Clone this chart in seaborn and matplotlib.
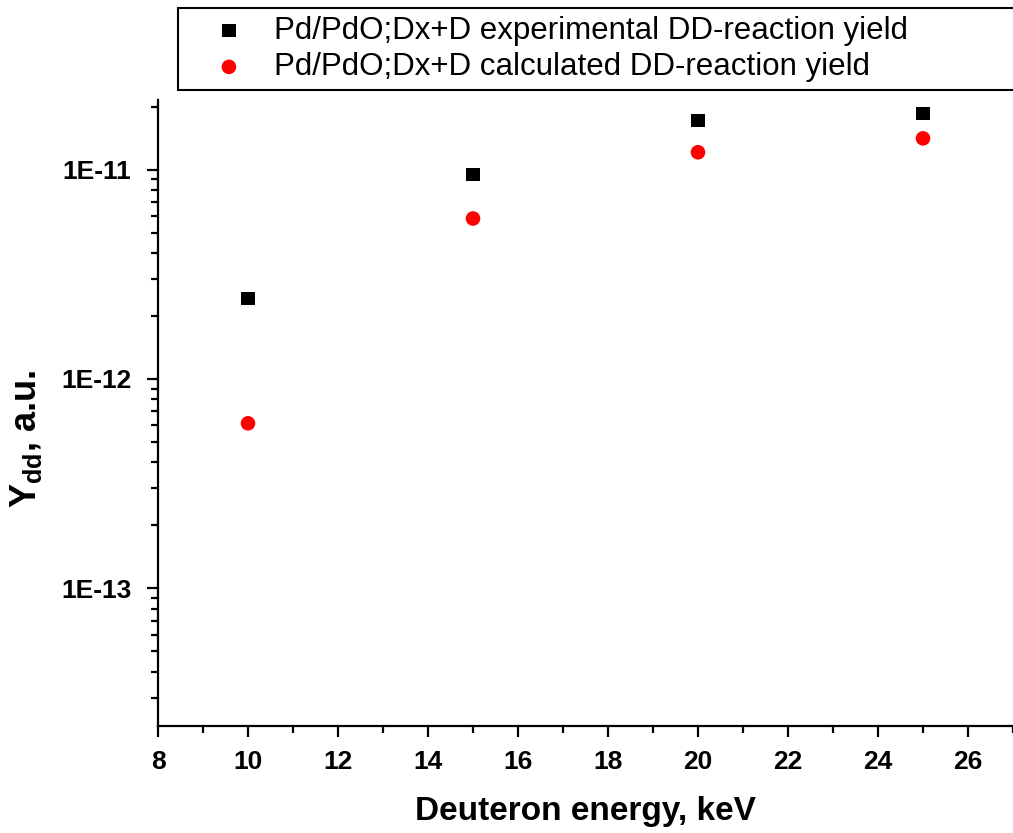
import matplotlib
matplotlib.use("Agg")
import matplotlib.pyplot as plt
import matplotlib.ticker as mticker
import seaborn as sns
import pandas as pd
import numpy as np

energy = [10, 15, 20, 25]
exp_yield = [2.42e-12, 9.46e-12, 1.71e-11, 1.85e-11]
calc_yield = [6.14e-13, 5.84e-12, 1.21e-11, 1.41e-11]
labels = ["Pd/PdO;Dx+D experimental DD-reaction yield",
          "Pd/PdO;Dx+D calculated DD-reaction yield"]
y_major = [1e-13, 1e-12, 1e-11]
y_tick_labels = ["1E-13", "1E-12", "1E-11"]

sns.set_theme(style="ticks", rc={"text.color": "black", "axes.labelcolor": "black",
                                 "xtick.color": "black", "ytick.color": "black"})
plt.rcParams['font.family'] = ['Liberation Sans', 'DejaVu Sans']
plt.rcParams['mathtext.fontset'] = 'custom'
plt.rcParams['mathtext.rm'] = 'Liberation Sans'
plt.rcParams['mathtext.bf'] = 'Liberation Sans:bold'
plt.rcParams['mathtext.it'] = 'Liberation Sans:italic'

W, H = 1013, 833
fig = plt.figure(figsize=(W / 100, H / 100), dpi=100)
ax = fig.add_axes([158 / W, 1 - 726 / H, 1 - 158 / W, (726 - 100) / H])

df_exp = pd.DataFrame({"E": energy, "Y": exp_yield})
df_calc = pd.DataFrame({"E": energy, "Y": calc_yield})

sns.scatterplot(data=df_exp, x="E", y="Y", ax=ax, marker="s", s=9.5 ** 2,
                color="black", edgecolor="none", linewidth=0, label=labels[0])
sns.scatterplot(data=df_calc, x="E", y="Y", ax=ax, marker="o", s=10.5 ** 2,
                color="#ff0000", edgecolor="none", linewidth=0, label=labels[1])

ax.set_yscale("log")
ylo, yhi = 2.2e-14, 2.15e-11
ax.set_xlim(8, 27)
ax.set_ylim(ylo, yhi)

ax.xaxis.set_major_locator(mticker.MultipleLocator(2))
ax.xaxis.set_minor_locator(mticker.MultipleLocator(1))
minor = [m * 10.0 ** e for e in range(-14, -10) for m in range(2, 10)]
minor = [v for v in minor if ylo <= v <= yhi]
ax.yaxis.set_major_locator(mticker.FixedLocator(y_major))
ax.yaxis.set_major_formatter(mticker.FixedFormatter(y_tick_labels))
ax.yaxis.set_minor_locator(mticker.FixedLocator(minor))
ax.yaxis.set_minor_formatter(mticker.NullFormatter())

for side in ["top", "right"]:
    ax.spines[side].set_visible(False)
for side in ["left", "bottom"]:
    ax.spines[side].set_linewidth(1.6)
    ax.spines[side].set_color("black")

ax.tick_params(axis="both", which="major", direction="out", length=8, width=1.6,
               labelsize=19, colors="black")
ax.tick_params(axis="x", which="major", pad=9)
ax.tick_params(axis="y", which="major", pad=11)
ax.tick_params(axis="both", which="minor", direction="out", length=5, width=1.6,
               colors="black")
for lab in ax.get_xticklabels() + ax.get_yticklabels():
    lab.set_fontweight("bold")

ax.set_xlabel("Deuteron energy, keV", fontsize=24, fontweight="bold", labelpad=16)
ax.set_ylabel(r"$\mathbf{Y_{dd}}$, a.u.", fontsize=26, fontweight="bold")
ax.yaxis.set_label_coords(-114 / (W - 158), (726 - 439) / (726 - 100))

ax.legend_.remove()
handles, labs = ax.get_legend_handles_labels()
leg = fig.legend(handles, labs, loc="upper left",
                 bbox_to_anchor=(178 / W, 1 - 8 / H, (1040 - 178) / W, 0),
                 mode="expand", fontsize=22.5, frameon=True, fancybox=False,
                 edgecolor="black", framealpha=1, borderpad=0.25,
                 labelspacing=0.2, handletextpad=0.07, borderaxespad=0,
                 handlelength=2.76, markerscale=1.0)
leg.get_frame().set_linewidth(1.5)
for t in leg.get_texts():
    t.set_color("black")

fig.savefig("out.png", dpi=100)
